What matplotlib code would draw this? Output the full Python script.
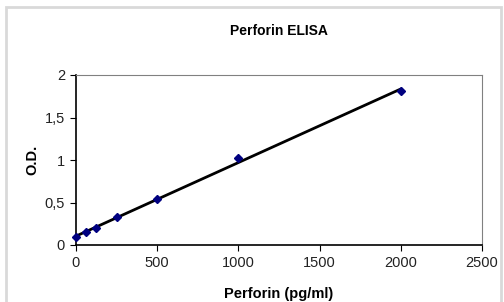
import numpy as np
import matplotlib
matplotlib.use("Agg")
import matplotlib.pyplot as plt
from matplotlib.patches import Rectangle
from matplotlib.ticker import FuncFormatter

# Perforin ELISA standard curve
conc = [0, 62.5, 125, 250, 500, 1000, 2000]
od = [0.09, 0.15, 0.20, 0.33, 0.54, 1.02, 1.81]
x_ticks = [0, 500, 1000, 1500, 2000, 2500]
y_ticks = [0, 0.5, 1, 1.5, 2]

plt.rcParams['font.family'] = ['Liberation Sans', 'DejaVu Sans']

fig = plt.figure(figsize=(5.04, 3.02), dpi=100)
W, H = 504, 302
# light gray outer frame
fig.patches.append(Rectangle((6 / W, -0.05), 495 / W, 1 - 7 / H + 0.05,
                             transform=fig.transFigure, fill=False,
                             edgecolor='#d9d9d9', linewidth=2))

ax = fig.add_axes([76 / W, 1 - 245 / H, 406 / W, 170 / H])

# linear trend line
slope, icept = np.polyfit(conc, od, 1)
xl = np.array([conc[0], conc[-1]])
ax.plot(xl, slope * xl + icept, color='black', lw=2, zorder=2)
ax.plot(conc, od, linestyle='none', marker='D', markersize=4.5,
        color='#000080', zorder=3, clip_on=False)

ax.set_xlim(0, 2500)
ax.set_ylim(0, 2)
ax.set_xticks(x_ticks)
ax.set_yticks(y_ticks)
ax.yaxis.set_major_formatter(FuncFormatter(lambda v, p: ('%g' % v).replace('.', ',')))
ax.tick_params(labelsize=10.5, length=4, direction='out', colors='black',
               labelcolor='#222222', pad=4)

for s in ['top', 'right']:
    ax.spines[s].set_color('#808080')
for s in ['left', 'bottom']:
    ax.spines[s].set_color('black')
    ax.spines[s].set_linewidth(1.2)

ax.set_title('Perforin ELISA', fontsize=10, fontweight='bold', pad=29)
ax.set_xlabel('Perforin (pg/ml)', fontsize=10.5, fontweight='bold', labelpad=12)
ax.set_ylabel('O.D.', fontsize=10.5, fontweight='bold', labelpad=4)

fig.savefig('out.png', dpi=100)
